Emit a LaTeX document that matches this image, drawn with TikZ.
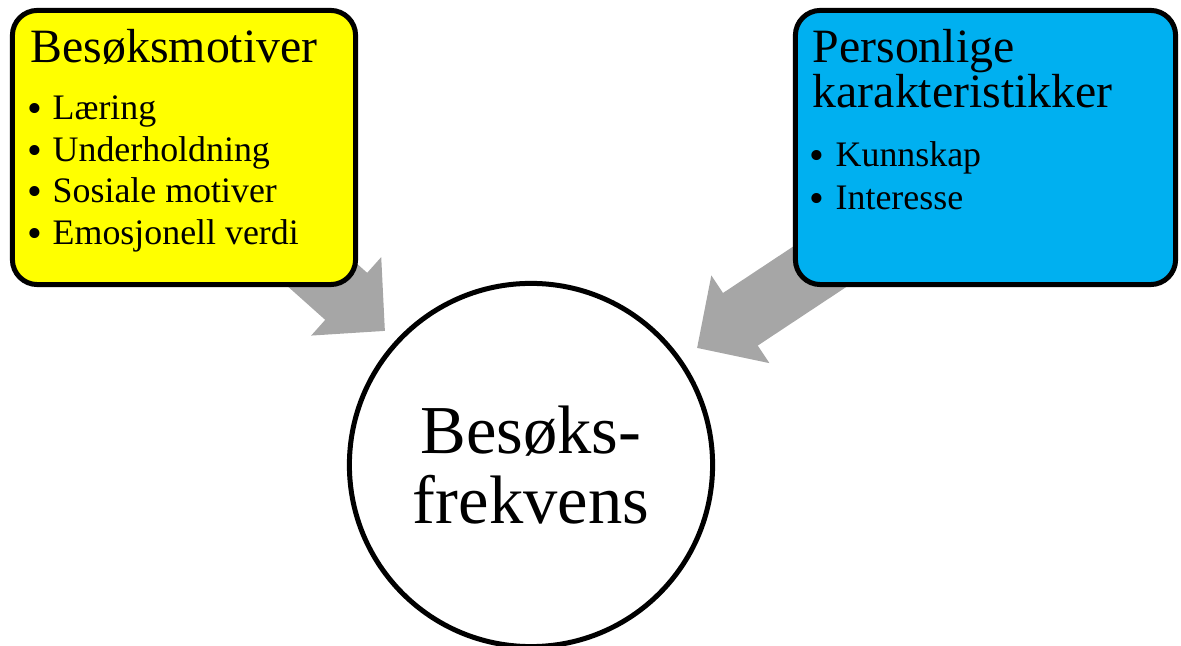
\documentclass[tikz,border=0pt]{standalone}
\usepackage{fontspec}
\setmainfont{Liberation Serif}
\usetikzlibrary{arrows.meta}

\definecolor{motyellow}{RGB}{255,255,0}
\definecolor{persblue}{RGB}{0,176,240}
\definecolor{arrowgray}{RGB}{166,166,166}

\tikzset{
  infobox/.style={draw=black, line width=0.05cm, rounded corners=0.25cm, inner sep=0pt},
  bigarrow/.style={arrowgray, line width=0.63cm, -{Triangle[length=0.52cm, width=1.02cm]}},
  boxtitle/.style={anchor=base west, inner sep=0pt, font=\fontsize{13.6}{16}\selectfont},
  itemtext/.style={anchor=base west, inner sep=0pt, font=\fontsize{10.2}{12}\selectfont},
  itemdot/.style={anchor=base, inner sep=0pt, font=\fontsize{12}{12}\selectfont}
}

\begin{document}
\begin{tikzpicture}[x=0.01cm, y=-0.01cm]
  \useasboundingbox (0,0) rectangle (1181,646);

  % Arrow ends (start behind the boxes)
  \coordinate (motstart) at (273,231);
  \coordinate (mottip) at (385,331);
  \coordinate (persstart) at (839,254);
  \coordinate (perstip) at (697,348);

  % Grey arrows
  \draw[bigarrow] (motstart) -- (mottip);
  \draw[bigarrow] (persstart) -- (perstip);

  % Boxes
  \node[infobox, fill=motyellow, minimum width=3.43cm, minimum height=2.74cm] (mot) at (184,147.5) {};
  \node[infobox, fill=persblue, minimum width=3.80cm, minimum height=2.74cm] (pers) at (985.5,147.5) {};

  % Centre circle
  \node[circle, draw=black, line width=0.05cm, minimum size=3.63cm, inner sep=0pt,
        align=center, font=\fontsize{19.5}{19.9}\selectfont] (freq) at (531,465)
        {Besøks-\\frekvens};

  % Besøksmotiver
  \node[boxtitle] (motT) at (30,63) {Besøksmotiver};
  \node[itemdot] (motd1) at (35,123) {•};
  \node[itemtext] (moti1) at (52,120) {Læring};
  \node[itemdot] (motd2) at (35,165) {•};
  \node[itemtext] (moti2) at (52,162) {Underholdning};
  \node[itemdot] (motd3) at (35,206) {•};
  \node[itemtext] (moti3) at (52,203) {Sosiale motiver};
  \node[itemdot] (motd4) at (35,248) {•};
  \node[itemtext] (moti4) at (52,245) {Emosjonell verdi};

  % Personlige karakteristikker
  \node[boxtitle] (persT1) at (812,63) {Personlige};
  \node[boxtitle] (persT2) at (812,108) {karakteristikker};
  \node[itemdot] (persd1) at (817,170) {•};
  \node[itemtext] (persi1) at (835,167) {Kunnskap};
  \node[itemdot] (persd2) at (817,213) {•};
  \node[itemtext] (persi2) at (835,210) {Interesse};

\end{tikzpicture}
\end{document}
